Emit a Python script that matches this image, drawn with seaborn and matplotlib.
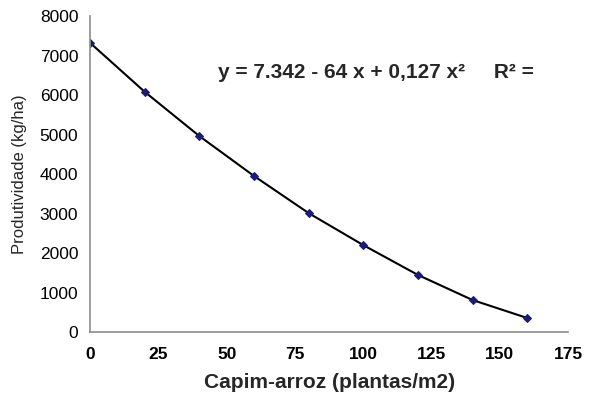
import matplotlib
matplotlib.use("Agg")
import matplotlib.pyplot as plt
import seaborn as sns
import pandas as pd

# data
plantas = [0, 20, 40, 60, 80, 100, 120, 140, 160]
produtividade = [7320, 6080, 4960, 3950, 3010, 2200, 1445, 810, 355]
x_ticks = [0, 25, 50, 75, 100, 125, 150, 175]
y_ticks = [0, 1000, 2000, 3000, 4000, 5000, 6000, 7000, 8000]
equacao = "y = 7.342 - 64 x + 0,127 x²     R² ="

df = pd.DataFrame({"x": plantas, "y": produtividade})

sns.set_style("white")
plt.rcParams["font.family"] = ["Liberation Sans", "DejaVu Sans"]

fig = plt.figure(figsize=(6.09, 4.01), dpi=100)
ax = fig.add_axes([0.148, 0.172, 0.785, 0.788])

sns.lineplot(data=df, x="x", y="y", ax=ax, color="black", linewidth=1.5,
             marker="D", markersize=4.5, markerfacecolor="#1c1c78",
             markeredgecolor="#1c1c78")

ax.set_xlim(0, 175)
ax.set_ylim(0, 8000)
ax.set_xticks(x_ticks)
ax.set_yticks(y_ticks)
ax.set_xticklabels([str(t) for t in x_ticks], fontsize=12.5, fontweight="bold")
ax.set_yticklabels([str(t) for t in y_ticks], fontsize=12.5)

for s in ["top", "right"]:
    ax.spines[s].set_visible(False)
for s in ["left", "bottom"]:
    ax.spines[s].set_color("#8c8c8c")
    ax.spines[s].set_linewidth(1.2)
ax.tick_params(axis="both", direction="out", length=5, width=1.2, color="#8c8c8c",
               labelcolor="black")
ax.tick_params(axis="x", pad=6)

ax.set_xlabel("Capim-arroz (plantas/m2)", fontsize=15, fontweight="bold", labelpad=8)
ax.set_ylabel("Produtividade (kg/ha)", fontsize=12, labelpad=9)

ax.text(0.268, 0.82, equacao, transform=ax.transAxes, fontsize=15,
        fontweight="bold", va="center", ha="left")

fig.savefig("out.png", dpi=100)
